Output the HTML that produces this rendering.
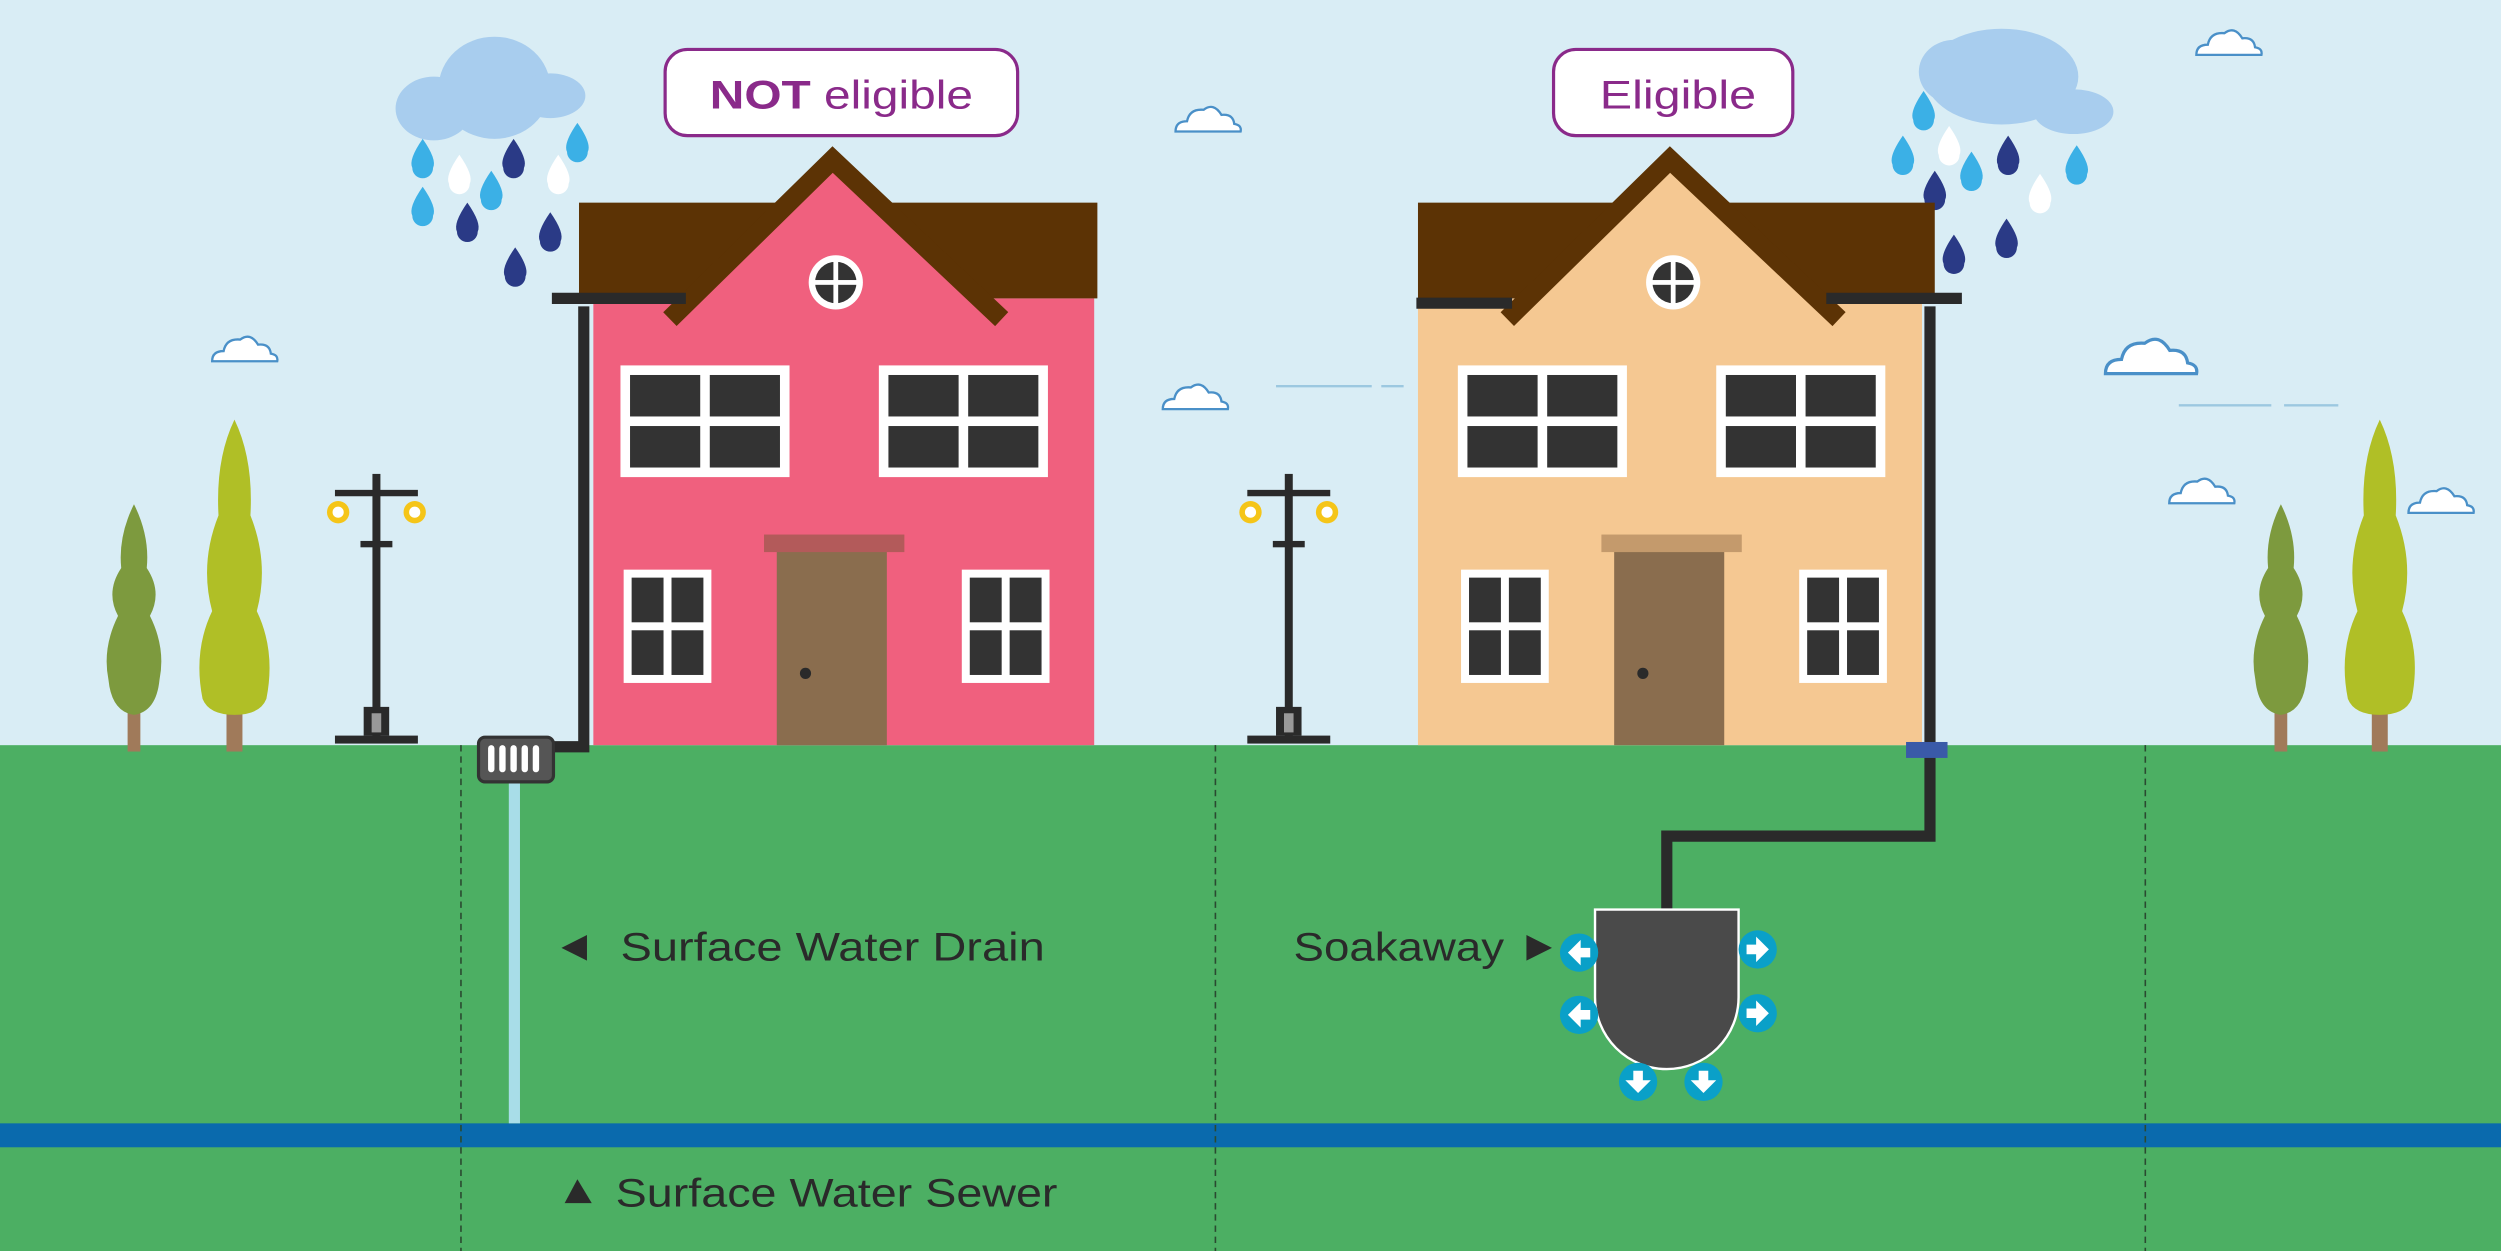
<!DOCTYPE html>
<html><head><meta charset="utf-8"><style>
html,body{margin:0;padding:0;background:#d9edf5;overflow:hidden}
svg{display:block}
text{font-family:"Liberation Sans",sans-serif}
</style></head><body>
<svg width="2501" height="1251" viewBox="0 0 1568 784" preserveAspectRatio="none" xmlns="http://www.w3.org/2000/svg">
<defs>
<g id="cloud"><path transform="scale(0.8)" d="M0,18 q0,-8 9,-8 q2,-10 13,-9 q8,-6 14,4 q9,-1 10,7 q6,1 5,6 z" fill="#fff" stroke="#4a90c8" stroke-width="1.8"/></g>
<g id="drop"><path transform="scale(1.3)" d="M0,-10 q7,10 5,14 a5,5 0 0 1 -10,0 q-2,-4 5,-14z"/></g>
<g id="lamp">
<rect x="-2.5" y="0" width="5" height="165" fill="#2a2a2a"/>
<rect x="-26" y="10" width="52" height="4" fill="#2a2a2a"/>
<rect x="-10" y="42" width="20" height="4" fill="#2a2a2a"/>
<circle cx="-24" cy="24" r="7" fill="#f5c518"/><circle cx="-24" cy="24" r="3.5" fill="#fff"/>
<circle cx="24" cy="24" r="7" fill="#f5c518"/><circle cx="24" cy="24" r="3.5" fill="#fff"/>
<rect x="-8" y="146" width="16" height="18" fill="#2a2a2a"/><rect x="-3" y="150" width="6" height="12" fill="#999"/>
<rect x="-26" y="164" width="52" height="5" fill="#2a2a2a"/>
</g>
<g id="win">
<rect x="0" y="0" width="106" height="70" fill="#fff"/>
<rect x="6" y="6" width="44" height="26" fill="#333"/><rect x="56" y="6" width="44" height="26" fill="#333"/>
<rect x="6" y="38" width="44" height="26" fill="#333"/><rect x="56" y="38" width="44" height="26" fill="#333"/>
</g>
<g id="swin">
<rect x="0" y="0" width="55" height="71" fill="#fff"/>
<rect x="5" y="5" width="20" height="28" fill="#333"/><rect x="30" y="5" width="20" height="28" fill="#333"/>
<rect x="5" y="38" width="20" height="28" fill="#333"/><rect x="30" y="38" width="20" height="28" fill="#333"/>
</g>
<g id="treeS"><rect x="-4" y="130" width="8" height="25" fill="#a07a5a"/><path d="M0,0 q10,20 8,40 q10,15 2,30 q10,20 6,40 q-2,20 -16,22 q-14,-2 -16,-22 q-4,-20 6,-40 q-8,-15 2,-30 q-2,-20 8,-40z" fill="#7d9a3e"/></g>
<g id="treeL"><rect x="-5" y="180" width="10" height="28" fill="#a07a5a"/><path d="M0,0 q12,25 10,60 q12,30 4,60 q12,25 6,55 q-4,10 -20,10 q-16,0 -20,-10 q-6,-30 6,-55 q-8,-30 4,-60 q-2,-35 10,-60z" fill="#b0bf26"/></g>
<g id="arrR"><circle r="12" fill="#0aa0c8"/><path d="M-7,-3h6v-5l8,8l-8,8v-5h-6z" fill="#fff"/></g>
</defs>

<rect width="1568" height="467" fill="#d9edf5"/>
<use href="#cloud" x="133" y="212"/>
<use href="#cloud" x="737" y="68"/>
<use href="#cloud" x="729" y="242"/>
<use href="#cloud" x="1377" y="20"/>
<use href="#cloud" x="1320" y="214" transform="translate(1320,214) scale(1.4) translate(-1320,-214)"/>
<use href="#cloud" x="1360" y="301"/>
<use href="#cloud" x="1510" y="307"/>
<g stroke="#9cc8e0" stroke-width="1.5"><line x1="800" y1="242" x2="860" y2="242"/><line x1="866" y1="242" x2="880" y2="242"/><line x1="1366" y1="254" x2="1424" y2="254"/><line x1="1432" y1="254" x2="1466" y2="254"/></g>

<g fill="#a8cdee"><ellipse cx="310" cy="55" rx="35" ry="32"/><ellipse cx="272" cy="68" rx="24" ry="20"/><ellipse cx="345" cy="60" rx="22" ry="14"/></g>
<g fill="#a8cdee"><ellipse cx="1255" cy="48" rx="48" ry="30"/><ellipse cx="1225" cy="45" rx="22" ry="20"/><ellipse cx="1300" cy="70" rx="25" ry="14"/></g>
<g fill="#3bb0e6"><use href="#drop" x="265" y="100"/><use href="#drop" x="265" y="130"/><use href="#drop" x="308" y="120"/><use href="#drop" x="362" y="90"/><use href="#drop" x="1193" y="98"/><use href="#drop" x="1236" y="108"/><use href="#drop" x="1206" y="70"/><use href="#drop" x="1302" y="104"/></g>
<g fill="#fff"><use href="#drop" x="288" y="110"/><use href="#drop" x="350" y="110"/><use href="#drop" x="1222" y="92"/><use href="#drop" x="1279" y="122"/></g>
<g fill="#2a3a86"><use href="#drop" x="322" y="100"/><use href="#drop" x="293" y="140"/><use href="#drop" x="345" y="146"/><use href="#drop" x="323" y="168"/><use href="#drop" x="1259" y="98"/><use href="#drop" x="1213" y="120"/><use href="#drop" x="1258" y="150"/><use href="#drop" x="1225" y="160"/></g>

<rect y="467" width="1568" height="317" fill="#4caf63"/>
<rect y="704" width="1568" height="15" fill="#0a6aad"/>
<g stroke="#2a4a30" stroke-width="1" stroke-dasharray="4,3"><line x1="289" y1="467" x2="289" y2="784"/><line x1="762" y1="467" x2="762" y2="784"/><line x1="1345" y1="467" x2="1345" y2="784"/></g>

<use href="#treeS" x="84" y="316"/><use href="#treeL" x="147" y="263"/>
<use href="#treeS" x="1430" y="316"/><use href="#treeL" x="1492" y="263"/>
<use href="#lamp" x="236" y="297"/><use href="#lamp" x="808" y="297"/>

<rect x="372" y="187" width="314" height="280" fill="#f0607e"/>
<rect x="363" y="127" width="325" height="60" fill="#5c3305"/>
<polygon points="522,108 420,200 628,200" fill="#f0607e"/>
<polyline points="420,200 522,100 628,200" fill="none" stroke="#5c3305" stroke-width="12"/>
<circle cx="524" cy="177" r="17" fill="#fff"/><circle cx="524" cy="177" r="13" fill="#333"/>
<rect x="522.5" y="163" width="3" height="28" fill="#fff"/><rect x="510" y="175.5" width="28" height="3" fill="#fff"/>
<use href="#win" x="389" y="229"/><use href="#win" x="551" y="229"/>
<use href="#swin" x="391" y="357"/><use href="#swin" x="603" y="357"/>
<rect x="487" y="345" width="69" height="122" fill="#8a6d4e"/><rect x="479" y="335" width="88" height="11" fill="#b35a5a"/>
<circle cx="505" cy="422" r="3.5" fill="#2a2a2a"/>
<path d="M346,187 h84 M366,192 v276 h-20" fill="none" stroke="#2a2a2a" stroke-width="7"/>
<rect x="319" y="490" width="7" height="214" fill="#a8dde8"/>
<rect x="300" y="462" width="47" height="28" rx="4" fill="#555" stroke="#333" stroke-width="2"/>
<g fill="#fff"><rect x="306" y="467" width="4" height="17" rx="2"/><rect x="313" y="467" width="4" height="17" rx="2"/><rect x="320" y="467" width="4" height="17" rx="2"/><rect x="327" y="467" width="4" height="17" rx="2"/><rect x="334" y="467" width="4" height="17" rx="2"/></g>

<rect x="889" y="187" width="316" height="280" fill="#f5c892"/>
<rect x="889" y="127" width="324" height="60" fill="#5c3305"/>
<polygon points="1047,108 945,200 1153,200" fill="#f5c892"/>
<polyline points="945,200 1047,100 1153,200" fill="none" stroke="#5c3305" stroke-width="12"/>
<circle cx="1049" cy="177" r="17" fill="#fff"/><circle cx="1049" cy="177" r="13" fill="#333"/>
<rect x="1047.5" y="163" width="3" height="28" fill="#fff"/><rect x="1035" y="175.5" width="28" height="3" fill="#fff"/>
<use href="#win" x="914" y="229"/><use href="#win" x="1076" y="229"/>
<use href="#swin" x="916" y="357"/><use href="#swin" x="1128" y="357"/>
<rect x="1012" y="345" width="69" height="122" fill="#8a6d4e"/><rect x="1004" y="335" width="88" height="11" fill="#c49a6c"/>
<circle cx="1030" cy="422" r="3.5" fill="#2a2a2a"/>
<path d="M888,190 h60 M1145,187 h85 M1210,192 v332 h-165 v47" fill="none" stroke="#2a2a2a" stroke-width="7"/>
<rect x="1195" y="465" width="26" height="10" fill="#3a5aa8"/>
<path d="M1000,570 h90 v55 a45,45 0 0 1 -90,0 z" fill="#4a4a4a" stroke="#fff" stroke-width="1.5"/>
<use href="#arrR" x="990" y="597" transform="rotate(180 990 597)"/>
<use href="#arrR" x="990" y="636" transform="rotate(180 990 636)"/>
<use href="#arrR" x="1102" y="595"/><use href="#arrR" x="1102" y="635"/>
<use href="#arrR" x="1027" y="678" transform="rotate(90 1027 678)"/>
<use href="#arrR" x="1068" y="678" transform="rotate(90 1068 678)"/>

<rect x="417" y="31" width="221" height="54" rx="14" fill="#fff" stroke="#8a2a8a" stroke-width="2"/>
<text x="445" y="68" textLength="165" lengthAdjust="spacingAndGlyphs" font-size="25" fill="#8a2a8a"><tspan font-weight="bold">NOT</tspan> eligible</text>
<rect x="974" y="31" width="150" height="54" rx="14" fill="#fff" stroke="#8a2a8a" stroke-width="2"/>
<text x="1003" y="68" textLength="98" lengthAdjust="spacingAndGlyphs" font-size="25" fill="#8a2a8a">Eligible</text>
<g fill="#2a2a2a" font-size="25">
<polygon points="352,594 368,586 368,602"/>
<text x="389" y="602" textLength="266" lengthAdjust="spacingAndGlyphs">Surface Water Drain</text>
<text x="811" y="602" textLength="132" lengthAdjust="spacingAndGlyphs">Soakaway</text>
<polygon points="973,594 957,586 957,602"/>
<polygon points="362,739 354,754 371,754"/>
<text x="386" y="756" textLength="277" lengthAdjust="spacingAndGlyphs">Surface Water Sewer</text>
</g>
</svg>
</body></html>
